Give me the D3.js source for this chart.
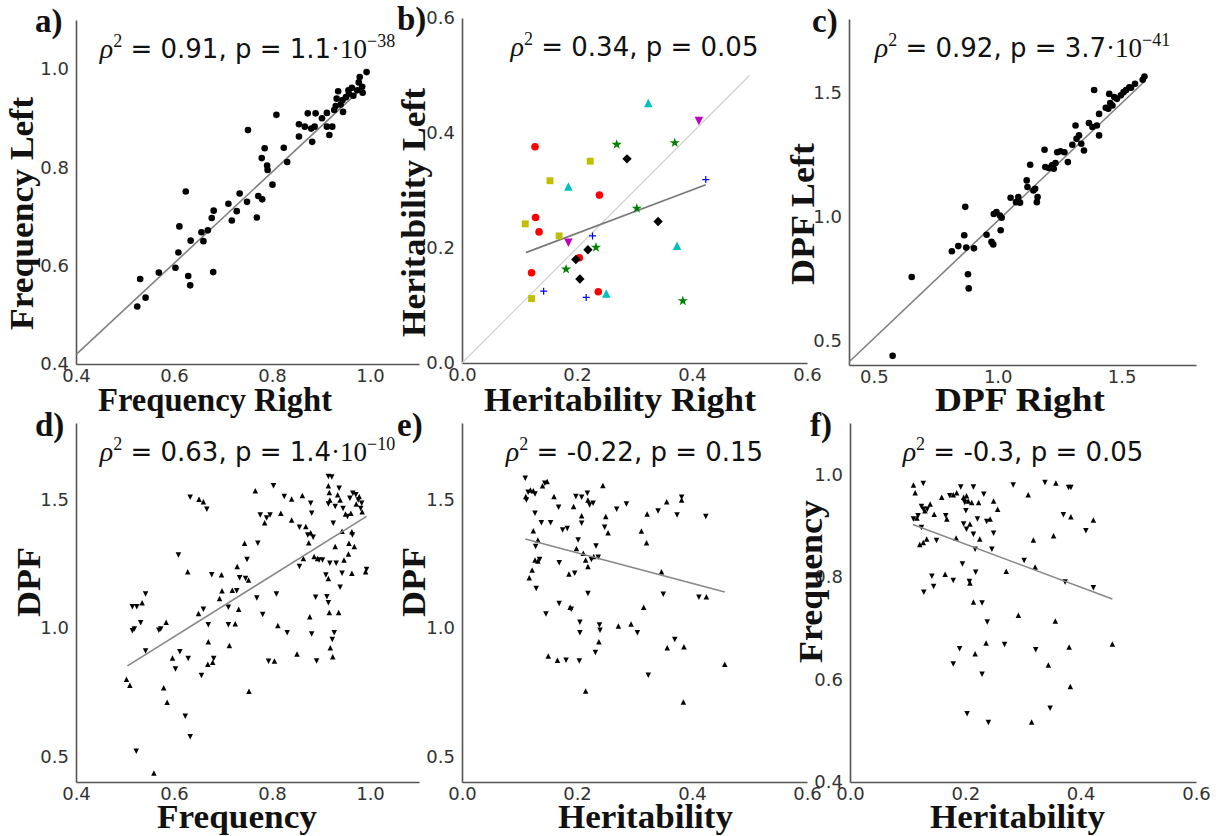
<!DOCTYPE html>
<html>
<head>
<meta charset="utf-8">
<script src="https://cdn.jsdelivr.net/npm/d3@7"></script>
<style>
  body { margin: 0; background: #fff; }
  svg { display: block; }
</style>
</head>
<body>
<div class="chart"></div>
<script>
// ---- data ----
// a) frequency left vs right
var freqPairs = [[0.525,0.517],[0.531,0.573],[0.542,0.535],[0.569,0.586],[0.603,0.596],[0.609,0.627],[0.611,0.680],[0.624,0.751],[0.629,0.579],[0.633,0.560],[0.634,0.651],[0.656,0.668],[0.660,0.650],[0.669,0.672],[0.677,0.697],[0.681,0.712],[0.680,0.587],[0.711,0.726],[0.718,0.692],[0.728,0.711],[0.734,0.747],[0.749,0.730],[0.751,0.876],[0.769,0.698],[0.772,0.742],[0.780,0.735],[0.779,0.819],[0.785,0.839],[0.790,0.804],[0.791,0.795],[0.801,0.765],[0.809,0.907],[0.824,0.840],[0.831,0.811],[0.855,0.888],[0.855,0.863],[0.867,0.883],[0.873,0.910],[0.880,0.879],[0.882,0.852],[0.887,0.883],[0.889,0.910],[0.902,0.900],[0.912,0.911],[0.912,0.883],[0.917,0.866],[0.923,0.883],[0.927,0.917],[0.930,0.925],[0.932,0.940],[0.935,0.955],[0.940,0.928],[0.944,0.937],[0.945,0.913],[0.951,0.943],[0.956,0.957],[0.957,0.950],[0.963,0.962],[0.966,0.946],[0.974,0.957],[0.977,0.973],[0.979,0.984],[0.984,0.964],[0.985,0.952],[0.993,0.994]];
var freqFit = [[0.4,0.419],[0.99,0.967]];

// b) heritability left vs right, one array per marker group
var herRed = [[0.127,0.376],[0.239,0.292],[0.128,0.253],[0.134,0.228],[0.121,0.157],[0.204,0.183],[0.237,0.124]];
var herYellow = [[0.223,0.351],[0.153,0.317],[0.110,0.242],[0.169,0.221],[0.121,0.112]];
var herCyan = [[0.324,0.452],[0.185,0.307],[0.374,0.204],[0.251,0.121]];
var herMagenta = [[0.412,0.421],[0.185,0.209]];
var herGreen = [[0.269,0.380],[0.370,0.383],[0.304,0.269],[0.233,0.201],[0.181,0.163],[0.384,0.108]];
var herBlack = [[0.287,0.355],[0.341,0.246],[0.219,0.197],[0.198,0.180],[0.205,0.146]];
var herBlue = [[0.424,0.319],[0.227,0.221],[0.142,0.125],[0.216,0.114]];
var herFit = [[0.111,0.192],[0.424,0.310]];
var herIdentity = [[0,0],[0.5,0.5]];

// c) DPF left vs right
var dpfPairs = [[0.576,0.437],[0.653,0.756],[0.815,0.860],[0.841,0.881],[0.869,1.040],[0.865,0.925],[0.873,0.875],[0.880,0.767],[0.883,0.710],[0.904,0.872],[0.955,0.927],[0.975,0.898],[0.982,0.888],[0.984,1.011],[0.995,1.019],[1.009,1.005],[1.016,0.996],[1.012,0.945],[1.052,1.077],[1.074,1.059],[1.083,1.080],[1.090,1.057],[1.117,1.147],[1.120,1.120],[1.131,1.210],[1.144,1.106],[1.151,1.113],[1.158,1.059],[1.161,1.080],[1.189,1.271],[1.192,1.201],[1.206,1.197],[1.219,1.208],[1.226,1.194],[1.233,1.217],[1.240,1.261],[1.253,1.265],[1.269,1.261],[1.283,1.221],[1.301,1.291],[1.314,1.369],[1.318,1.315],[1.328,1.329],[1.337,1.295],[1.348,1.268],[1.368,1.379],[1.382,1.363],[1.389,1.513],[1.400,1.369],[1.409,1.329],[1.409,1.416],[1.436,1.441],[1.446,1.437],[1.454,1.460],[1.450,1.497],[1.463,1.450],[1.470,1.484],[1.481,1.477],[1.497,1.491],[1.508,1.504],[1.518,1.513],[1.531,1.524],[1.538,1.522],[1.554,1.538],[1.585,1.554],[1.592,1.567]];
var dpfFit = [[0.4,0.412],[1.59,1.545]];

// d) DPF vs frequency (up = one side, down = other side)
var dUp = [[0.559,0.435],[0.503,0.801],[0.510,0.777],[0.579,0.768],[0.586,0.711],[0.753,0.754],[0.535,1.099],[0.584,1.023],[0.597,0.884],[0.628,1.220],[0.651,1.503],[0.660,1.493],[0.650,1.057],[0.670,0.947],[0.669,0.859],[0.679,0.867],[0.697,1.208],[0.693,1.116],[0.698,1.146],[0.713,0.932],[0.719,1.148],[0.732,1.074],[0.725,1.017],[0.729,1.240],[0.744,1.331],[0.752,1.188],[0.766,1.536],[0.785,1.411],[0.805,0.872],[0.812,1.010],[0.818,1.448],[0.840,1.504],[0.840,1.422],[0.851,0.899],[0.862,1.517],[0.864,1.272],[0.869,1.396],[0.875,1.333],[0.879,1.372],[0.886,1.279],[0.877,1.044],[0.893,1.272],[0.915,1.555],[0.917,1.529],[0.918,1.500],[0.915,1.194],[0.917,1.061],[0.919,0.924],[0.924,0.888],[0.929,1.318],[0.934,1.520],[0.939,1.500],[0.936,1.061],[0.947,1.266],[0.943,1.378],[0.950,1.445],[0.956,1.289],[0.957,1.331],[0.963,1.214],[0.963,1.376],[0.961,1.448],[0.968,1.318],[0.972,1.484],[0.978,1.513],[0.984,1.454],[0.991,1.220]];
var dDown = [[0.523,0.520],[0.633,0.576],[0.623,0.656],[0.515,0.990],[0.519,0.997],[0.532,1.021],[0.542,0.911],[0.515,1.083],[0.524,1.083],[0.542,1.133],[0.569,0.992],[0.573,0.997],[0.603,0.841],[0.612,0.908],[0.629,0.882],[0.609,1.285],[0.633,1.510],[0.667,1.464],[0.660,1.074],[0.670,1.013],[0.656,0.815],[0.681,0.882],[0.677,1.208],[0.711,1.081],[0.711,1.013],[0.728,1.146],[0.734,1.197],[0.749,1.268],[0.746,1.194],[0.771,1.331],[0.769,1.118],[0.781,1.053],[0.803,1.555],[0.776,1.441],[0.789,1.430],[0.796,1.441],[0.793,0.871],[0.809,1.133],[0.831,0.982],[0.825,1.513],[0.856,1.393],[0.856,1.240],[0.873,1.363],[0.879,1.487],[0.881,1.448],[0.884,1.354],[0.881,0.977],[0.891,0.872],[0.889,1.120],[0.896,1.266],[0.903,1.266],[0.910,1.207],[0.915,1.591],[0.922,1.589],[0.915,1.484],[0.918,1.253],[0.912,1.122],[0.915,1.099],[0.923,0.956],[0.927,0.982],[0.925,1.409],[0.929,1.474],[0.931,1.253],[0.937,1.546],[0.943,1.214],[0.939,1.159],[0.945,1.467],[0.954,1.435],[0.959,1.507],[0.964,1.363],[0.965,1.526],[0.971,1.520],[0.976,1.500],[0.981,1.467],[0.983,1.487],[0.993,1.229]];
var dFit = [[0.505,0.853],[0.993,1.436]];

// e) DPF vs heritability
var eUp = [[0.111,1.513],[0.119,1.539],[0.124,1.536],[0.140,1.555],[0.148,1.572],[0.124,1.380],[0.132,1.344],[0.127,1.266],[0.132,1.262],[0.122,1.227],[0.117,1.197],[0.150,0.891],[0.166,0.875],[0.215,0.755],[0.160,1.513],[0.186,1.211],[0.188,1.081],[0.194,1.474],[0.199,1.311],[0.208,1.438],[0.211,1.292],[0.215,1.266],[0.219,1.500],[0.219,1.240],[0.229,1.279],[0.238,0.947],[0.245,1.556],[0.250,1.435],[0.254,1.372],[0.272,1.008],[0.294,1.016],[0.312,1.379],[0.316,1.081],[0.321,1.333],[0.322,1.445],[0.347,1.220],[0.356,1.493],[0.357,0.924],[0.382,1.500],[0.386,0.927],[0.385,0.712],[0.425,1.122],[0.457,0.859]];
var eDown = [[0.110,1.585],[0.112,1.500],[0.115,1.530],[0.127,1.523],[0.144,1.565],[0.127,1.448],[0.138,1.411],[0.154,1.411],[0.128,1.318],[0.135,1.268],[0.129,1.155],[0.146,1.055],[0.181,0.875],[0.204,0.872],[0.168,1.471],[0.169,1.255],[0.169,1.096],[0.175,1.383],[0.183,1.389],[0.190,1.074],[0.198,1.513],[0.208,1.510],[0.196,1.214],[0.202,1.344],[0.208,1.409],[0.205,1.023],[0.205,0.982],[0.218,1.526],[0.222,1.480],[0.228,1.487],[0.219,1.135],[0.225,1.268],[0.233,1.320],[0.237,1.276],[0.232,0.905],[0.239,1.012],[0.240,0.992],[0.248,1.393],[0.269,1.464],[0.286,1.484],[0.305,0.982],[0.324,0.816],[0.341,1.457],[0.350,1.132],[0.370,0.956],[0.374,1.441],[0.412,1.120],[0.424,1.435],[0.382,1.510]];
var eFit = [[0.110,1.348],[0.457,1.141]];

// f) frequency vs heritability
var fUp = [[0.110,0.979],[0.113,0.964],[0.116,0.915],[0.130,0.929],[0.139,0.942],[0.146,0.922],[0.121,0.863],[0.127,0.867],[0.133,0.874],[0.159,0.955],[0.168,0.913],[0.179,0.960],[0.185,0.964],[0.197,0.955],[0.202,0.958],[0.205,0.948],[0.211,0.945],[0.223,0.945],[0.208,0.903],[0.225,0.874],[0.249,0.948],[0.256,0.932],[0.243,0.913],[0.184,0.876],[0.165,0.805],[0.208,0.788],[0.271,0.811],[0.309,0.960],[0.318,0.872],[0.321,0.819],[0.357,0.983],[0.383,0.917],[0.353,0.880],[0.422,0.911],[0.214,0.751],[0.236,0.671],[0.292,0.725],[0.356,0.714],[0.217,0.650],[0.344,0.628],[0.380,0.663],[0.382,0.586],[0.455,0.669],[0.315,0.517]];
var fDown = [[0.127,0.982],[0.110,0.913],[0.118,0.919],[0.124,0.937],[0.127,0.932],[0.134,0.932],[0.124,0.896],[0.150,0.871],[0.166,0.919],[0.173,0.958],[0.192,0.975],[0.199,0.945],[0.201,0.929],[0.214,0.975],[0.197,0.903],[0.202,0.893],[0.221,0.913],[0.214,0.883],[0.217,0.854],[0.232,0.961],[0.237,0.908],[0.249,0.885],[0.246,0.854],[0.195,0.825],[0.218,0.809],[0.207,0.791],[0.179,0.793],[0.142,0.801],[0.145,0.781],[0.128,0.770],[0.283,0.979],[0.302,0.832],[0.338,0.984],[0.379,0.974],[0.383,0.974],[0.370,0.921],[0.373,0.790],[0.409,0.890],[0.422,0.779],[0.229,0.749],[0.238,0.712],[0.190,0.660],[0.179,0.630],[0.229,0.610],[0.268,0.668],[0.322,0.658],[0.203,0.533],[0.240,0.516],[0.347,0.544]];
var fFit = [[0.109,0.902],[0.455,0.757]];

// ticks
var ticksFreq = [0.4, 0.6, 0.8, 1.0];
var ticksHer = [0.0, 0.2, 0.4, 0.6];
var ticksDpf = [0.5, 1.0, 1.5];

// stats text
var statRho = ["0.91", "0.34", "0.92", "0.63", "-0.22", "-0.3"];
var statP = ["1.1", "0.05", "3.7", "1.4", "0.15", "0.05"];
var statExp = ["\u221238", null, "\u221241", "\u221210", null, null];

// ---- drawing ----
var width = 1219, height = 836;
var svg = d3.select(".chart").append("svg")
    .attr("width", width)
    .attr("height", height);

var sansFont = "'DejaVu Sans', sans-serif";
var serifFont = "'Liberation Serif', 'Times New Roman', serif";

var panels = [
  {letter: "a)", lx: 35, ly: 32, box: [76, 419, 20, 364], xd: [0.4, 1.1], yd: [0.4, 1.1], xt: ticksFreq, yt: ticksFreq,
   xlab: ["Frequency Right", 98, 332, 411], ylab: ["Frequency Left", 33, 97, 330]},
  {letter: "b)", lx: 397, ly: 30, box: [462, 807, 18, 363], xd: [0, 0.6], yd: [0, 0.6], xt: ticksHer, yt: ticksHer,
   xlab: ["Heritability Right", 484, 756, 411], ylab: ["Heritability Left", 425, 88, 337]},
  {letter: "c)", lx: 812, ly: 32, box: [849, 1196, 19, 365], xd: [0.4, 1.8], yd: [0.4, 1.8], xt: ticksDpf, yt: ticksDpf,
   xlab: ["DPF Right", 935, 1105, 411], ylab: ["DPF Left", 814, 143, 285]},
  {letter: "d)", lx: 35, ly: 436, box: [76, 419, 423, 782], xd: [0.4, 1.1], yd: [0.4, 1.8], xt: ticksFreq, yt: ticksDpf,
   xlab: ["Frequency", 157, 317, 828], ylab: ["DPF", 40, 547, 617]},
  {letter: "e)", lx: 397, ly: 436, box: [462, 807, 423, 782], xd: [0, 0.6], yd: [0.4, 1.8], xt: ticksHer, yt: ticksDpf,
   xlab: ["Heritability", 558, 733, 828], ylab: ["DPF", 425, 547, 617]},
  {letter: "f)", lx: 810, ly: 436, box: [850, 1196, 423, 782], xd: [0, 0.6], yd: [0.4, 1.1], xt: ticksHer, yt: ticksFreq,
   xlab: ["Heritability", 930, 1105, 828], ylab: ["Frequency", 822, 500, 663]}
];

function trianglePath(s, down) {
  var h = s / 2;
  return down ? "M0," + h + "L" + h + "," + (-h) + "L" + (-h) + "," + (-h) + "Z"
              : "M0," + (-h) + "L" + h + "," + h + "L" + (-h) + "," + h + "Z";
}

panels.forEach(function(p, i) {
  var x = d3.scaleLinear().domain(p.xd).range([p.box[0], p.box[1]]);
  var y = d3.scaleLinear().domain(p.yd).range([p.box[3], p.box[2]]);
  p.x = x; p.y = y;
  var g = svg.append("g").attr("class", "panel panel-" + i);

  // axes: only left and bottom spines, no tick marks
  var xAxis = g.append("g")
      .attr("transform", "translate(0," + p.box[3] + ")")
      .call(d3.axisBottom(x).tickValues(p.xt).tickSize(0).tickSizeOuter(0).tickPadding(5).tickFormat(d3.format(".1f")));
  var yAxis = g.append("g")
      .attr("transform", "translate(" + p.box[0] + ",0)")
      .call(d3.axisLeft(y).tickValues(p.yt).tickSize(0).tickSizeOuter(0).tickPadding(7).tickFormat(d3.format(".1f")));
  [xAxis, yAxis].forEach(function(a) {
    a.select(".domain").attr("stroke", "#555").attr("stroke-width", 1.6);
    a.selectAll("text").attr("font-family", sansFont).attr("font-size", 18).attr("fill", "#333");
  });

  // panel letter
  svg.append("text")
      .attr("x", p.lx).attr("y", p.ly)
      .attr("font-family", serifFont).attr("font-weight", "bold").attr("font-size", 33)
      .attr("fill", "#111")
      .text(p.letter);

  // axis labels
  svg.append("text")
      .attr("x", (p.xlab[1] + p.xlab[2]) / 2).attr("y", p.xlab[3])
      .attr("text-anchor", "middle")
      .attr("font-family", serifFont).attr("font-weight", "bold").attr("font-size", 33)
      .attr("fill", "#111")
      .attr("textLength", p.xlab[2] - p.xlab[1]).attr("lengthAdjust", "spacingAndGlyphs")
      .text(p.xlab[0]);
  svg.append("text")
      .attr("transform", "translate(" + p.ylab[1] + "," + (p.ylab[2] + p.ylab[3]) / 2 + ") rotate(-90)")
      .attr("text-anchor", "middle")
      .attr("font-family", serifFont).attr("font-weight", "bold").attr("font-size", 34)
      .attr("fill", "#111")
      .attr("textLength", p.ylab[3] - p.ylab[2]).attr("lengthAdjust", "spacingAndGlyphs")
      .text(p.ylab[0]);

  // stats annotation, centred over the axes
  var t = svg.append("text")
      .attr("x", (p.box[0] + p.box[1]) / 2).attr("y", p.box[2] + 38)
      .attr("text-anchor", "middle")
      .attr("font-family", sansFont).attr("font-size", 26).attr("fill", "#111");
  t.append("tspan").attr("font-family", serifFont).attr("font-style", "italic").attr("font-size", 28).text("\u03c1");
  t.append("tspan").attr("font-family", serifFont).attr("font-size", 18).attr("dy", -11).text("2");
  t.append("tspan").attr("dy", 11).text(" = " + statRho[i] + ", p = " + statP[i]);
  if (statExp[i]) {
    t.append("tspan").attr("font-family", serifFont).attr("font-size", 27).text("\u00b710");
    t.append("tspan").attr("font-family", serifFont).attr("font-size", 18).attr("dy", -11).text(statExp[i]);
  }
});

var line = d3.line();
function drawLine(p, pts, color, w) {
  svg.append("path")
      .attr("d", line(pts.map(function(d) { return [p.x(d[0]), p.y(d[1])]; })))
      .attr("fill", "none").attr("stroke", color).attr("stroke-width", w);
}

function drawDots(p, pts, r, color) {
  svg.append("g").selectAll("circle")
      .data(pts)
      .enter().append("circle")
      .attr("cx", function(d) { return p.x(d[0]); })
      .attr("cy", function(d) { return p.y(d[1]); })
      .attr("r", r)
      .attr("fill", color);
}

function drawTriangles(p, pts, s, down, color) {
  svg.append("g").selectAll("path")
      .data(pts)
      .enter().append("path")
      .attr("transform", function(d) { return "translate(" + p.x(d[0]) + "," + p.y(d[1]) + ")"; })
      .attr("d", trianglePath(s, down))
      .attr("fill", color || "#000");
}

function drawSymbols(p, pts, type, area, color, rot) {
  var sym = d3.symbol().type(type).size(area);
  svg.append("g").selectAll("path")
      .data(pts)
      .enter().append("path")
      .attr("transform", function(d) { return "translate(" + p.x(d[0]) + "," + p.y(d[1]) + ")" + (rot ? " rotate(" + rot + ")" : ""); })
      .attr("d", sym())
      .attr("fill", color);
}

// a)
drawLine(panels[0], freqFit, "#808080", 1.6);
drawDots(panels[0], freqPairs, 3.3, "#000");

// b)
var pb = panels[1];
drawLine(pb, herIdentity, "#cfcfcf", 1.2);
drawLine(pb, herFit, "#7a7a7a", 1.8);
drawDots(pb, herRed, 3.8, "#ff0000");
drawSymbols(pb, herYellow, d3.symbolSquare, 48, "#bfbf00");
drawTriangles(pb, herCyan, 8.5, false, "#00bfbf");
drawTriangles(pb, herMagenta, 8.5, true, "#bf00bf");
drawSymbols(pb, herGreen, d3.symbolStar, 32, "#008000");
drawSymbols(pb, herBlack, d3.symbolSquare, 44, "#000", 45);
svg.append("g").selectAll("path")
    .data(herBlue)
    .enter().append("path")
    .attr("transform", function(d) { return "translate(" + pb.x(d[0]) + "," + pb.y(d[1]) + ")"; })
    .attr("d", "M-3.5,0H3.5M0,-3.5V3.5")
    .attr("stroke", "#0000ff").attr("stroke-width", 1.2).attr("fill", "none");

// c)
drawLine(panels[2], dpfFit, "#808080", 1.6);
drawDots(panels[2], dpfPairs, 3.3, "#000");

// d), e), f)
[[3, dUp, dDown, dFit], [4, eUp, eDown, eFit], [5, fUp, fDown, fFit]].forEach(function(s) {
  var p = panels[s[0]];
  drawTriangles(p, s[1], 5.5, false);
  drawTriangles(p, s[2], 5.5, true);
  drawLine(p, s[3], "#888", 1.6);
});
</script>
</body>
</html>
